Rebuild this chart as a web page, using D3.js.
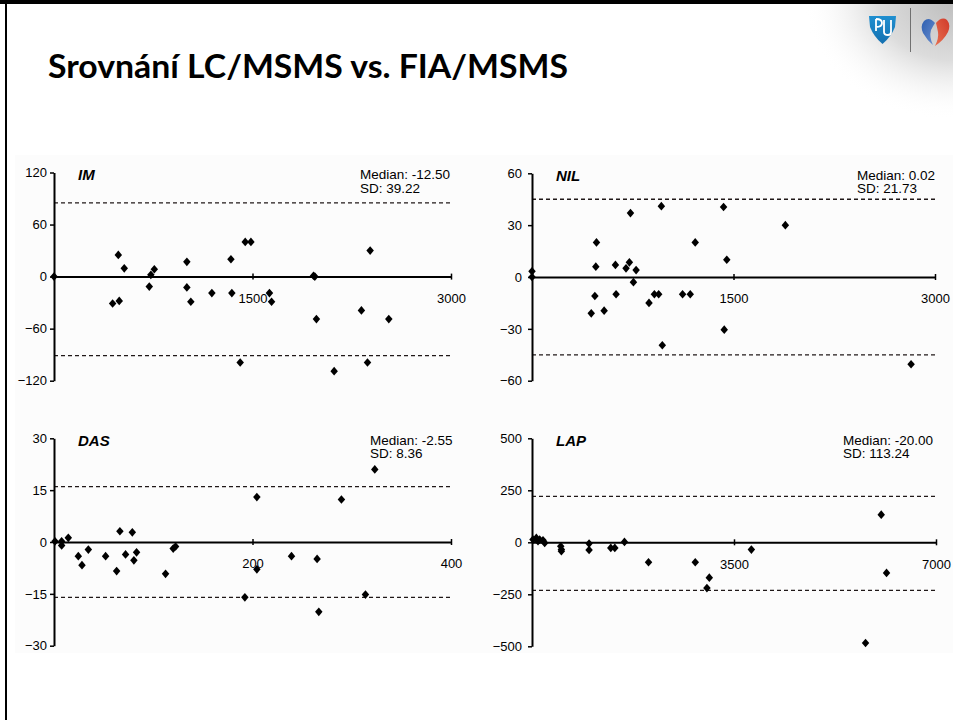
<!DOCTYPE html>
<html>
<head>
<meta charset="utf-8">
<script src="https://cdn.jsdelivr.net/npm/d3@7"></script>
<style>
  html, body { margin: 0; padding: 0; background: #fff; }
  svg { display: block; }
</style>
</head>
<body>
<svg id="chart" width="953" height="720"></svg>
<script>
// ---------------- DATA ----------------
const titleText = "Srovnání LC/MSMS vs. FIA/MSMS";
const panelNames = ["IM", "NIL", "DAS", "LAP"];
const medianLabels = ["-12.50", "0.02", "-2.55", "-20.00"];
const sdLabels = ["39.22", "21.73", "8.36", "113.24"];
const upperLimits = [85, 45, 16, 221];
const lowerLimits = [-91, -45, -16, -231];
const xDomains = [[0, 3000], [0, 3000], [0, 400], [0, 7000]];
const yDomains = [[-120, 120], [-60, 60], [-30, 30], [-500, 500]];
const xTickValues = [[1500, 3000], [1500, 3000], [200, 400], [3500, 7000]];
const yTickValues = [[-120, -60, 0, 60, 120], [-60, -30, 0, 30, 60], [-30, -15, 0, 15, 30], [-500, -250, 0, 250, 500]];

const imX = [0, 486, 531, 443, 493, 720, 732, 758, 1004, 1004, 1034, 1193, 1337, 1344, 1407, 1445, 1488, 1628, 1644, 1961, 1971, 1983, 2117, 2323, 2369, 2389, 2530];
const imY = [0, 25, 9.5, -31, -28, -11.5, 2, 8.5, 17, -12.5, -29, -19, 20, -19, -99, 40, 40, -19, -29, 1, 0, -49, -109, -39, -99, 30, -49];

const nilX = [0, 0, 480, 475, 468, 441, 537, 621, 626, 700, 725, 733, 775, 755, 871, 911, 943, 963, 970, 1121, 1178, 1215, 1426, 1450, 1431, 1886, 2822];
const nilY = [3.3, 0, 20, 6, -11, -21, -19.5, 7, -10, 5, 8.5, 37, 4, -3, -15, -10, -10, 41, -39.5, -10, -10, 20, 40.5, 10, -30.5, 30, -50.5];

const dasX = [1, 7.7, 7.7, 14.4, 24.5, 28.2, 34.6, 52, 63.1, 66.4, 72.1, 78.9, 80.5, 83.2, 112.4, 120.1, 122.5, 192.3, 204.4, 204.4, 239.3, 265.1, 266.8, 289.6, 313.8, 323.2];
const dasY = [0.2, 0.2, -1, 1.2, -4.1, -6.7, -2.2, -4.1, -8.4, 3.1, -3.6, 2.8, -5.3, -3, -9.2, -1.9, -1.3, -16, 13, -7.9, -4.1, -4.9, -20.2, 12.3, -15.2, 21];

const lapX = [17, 75, 104, 133, 191, 220, 498, 509, 509, 989, 989, 1365, 1435, 1602, 2019, 2829, 3031, 3072, 3801, 5779, 6051, 6143];
const lapY = [13, 21, 5, 13, 10, -3, -19, -35, -43, -6, -37, -27, -27, 2, -96, -96, -220, -170, -35, -484, 133, -147];

const seriesX = [imX, nilX, dasX, lapX];
const seriesY = [imY, nilY, dasY, lapY];

// ---------------- LAYOUT ----------------
const layout = [
  { left: 54,  right: 451, top: 172.5, bottom: 380.7, labelGap: 3 },
  { left: 532, right: 935, top: 173.3, bottom: 380.7, labelGap: 6 },
  { left: 54,  right: 451, top: 438.3, bottom: 645.7, labelGap: 3 },
  { left: 532, right: 936, top: 438.3, bottom: 646.3, labelGap: 6 }
];
const statsX = [360, 857, 370, 843];
const FONT = "'Liberation Sans', Arial, Helvetica, sans-serif";

const svg = d3.select("#chart");
const defs = svg.append("defs");

// top-right grey shading
const rg = defs.append("radialGradient").attr("id", "corner")
  .attr("gradientUnits", "userSpaceOnUse")
  .attr("cx", 953).attr("cy", 0).attr("r", 150)
  .attr("gradientTransform", "translate(953,0) scale(1,0.8) translate(-953,0)");
rg.append("stop").attr("offset", 0).attr("stop-color", "#bdbdbd");
rg.append("stop").attr("offset", 0.5).attr("stop-color", "#dcdcdc");
rg.append("stop").attr("offset", 1).attr("stop-color", "#ffffff").attr("stop-opacity", 0);

svg.append("rect").attr("width", 953).attr("height", 720).attr("fill", "#fff");
svg.append("rect").attr("x", 780).attr("y", 0).attr("width", 173).attr("height", 140).attr("fill", "url(#corner)");

// faint chart image background
svg.append("rect").attr("x", 15).attr("y", 155).attr("width", 938).attr("height", 498).attr("fill", "#fcfcfc");

// slide frame
svg.append("rect").attr("x", 0).attr("y", 0).attr("width", 953).attr("height", 4).attr("fill", "#000");
svg.append("rect").attr("x", 5).attr("y", 0).attr("width", 2).attr("height", 720).attr("fill", "#000");

// logos
svg.append("line").attr("x1", 910.5).attr("x2", 910.5).attr("y1", 8).attr("y2", 52)
  .attr("stroke", "#707070").attr("stroke-width", 1);
const bg = defs.append("linearGradient").attr("id", "blueShield").attr("x1", 0).attr("y1", 0).attr("x2", 0).attr("y2", 1);
bg.append("stop").attr("offset", 0).attr("stop-color", "#1f8fd0");
bg.append("stop").attr("offset", 1).attr("stop-color", "#1470b0");
svg.append("path")
  .attr("d", "M869,16 L896,16 L895,27 Q891,37 882.5,44 Q874,37 870,27 Z")
  .attr("fill", "url(#blueShield)");
svg.append("path")
  .attr("d", "M876,19 L876,31 M876,19 Q882,19 882,23 Q882,27 876,27 M884,20 L884,32 Q884,35 888,35 Q891,35 891,32 L891,20")
  .attr("fill", "none").attr("stroke", "#fff").attr("stroke-width", 1.8);
const hb = defs.append("linearGradient").attr("id", "heartBlue").attr("x1", 0).attr("y1", 0).attr("x2", 1).attr("y2", 1);
hb.append("stop").attr("offset", 0).attr("stop-color", "#2e5fb0");
hb.append("stop").attr("offset", 1).attr("stop-color", "#6a8fd0");
const hr = defs.append("linearGradient").attr("id", "heartRed").attr("x1", 1).attr("y1", 0).attr("x2", 0).attr("y2", 1);
hr.append("stop").attr("offset", 0).attr("stop-color", "#d03a2a");
hr.append("stop").attr("offset", 1).attr("stop-color", "#e87050");
svg.append("path")
  .attr("d", "M935,23 Q929,16 924,21 Q920,26 923,33 Q927,40 933,45 Q929,37 931,30 Q933,26 935,23 Z")
  .attr("fill", "url(#heartBlue)");
svg.append("path")
  .attr("d", "M936,23 Q942,16 947,20 Q951,25 948,32 Q944,40 935,46 Q939,38 938,32 Q937,27 936,23 Z")
  .attr("fill", "url(#heartRed)");

// title
svg.append("text")
  .attr("x", 48).attr("y", 78)
  .attr("font-family", "Lato, 'Open Sans', sans-serif")
  .attr("font-weight", "bold")
  .attr("font-size", 33)
  .attr("fill", "#000")
  .attr("textLength", 520)
  .attr("lengthAdjust", "spacingAndGlyphs")
  .text(titleText);

// diamond symbol
const diamond = {
  draw(context, size) {
    const a = Math.sqrt(size);
    context.moveTo(0, -a * 0.58);
    context.lineTo(a * 0.5, 0);
    context.lineTo(0, a * 0.58);
    context.lineTo(-a * 0.5, 0);
    context.closePath();
  }
};

panelNames.forEach((name, i) => {
  const L = layout[i];
  const x = d3.scaleLinear().domain(xDomains[i]).range([L.left, L.right]);
  const y = d3.scaleLinear().domain(yDomains[i]).range([L.bottom, L.top]);
  const g = svg.append("g");

  // limits (dashed)
  [upperLimits[i], lowerLimits[i]].forEach(v => {
    g.append("line")
      .attr("x1", x(xDomains[i][0])).attr("x2", x(xDomains[i][1]))
      .attr("y1", y(v)).attr("y2", y(v))
      .attr("stroke", "#201818").attr("stroke-width", 1.3)
      .attr("stroke-dasharray", "4,3");
  });

  // y axis
  const yAxis = d3.axisLeft(y).tickValues(yTickValues[i]).tickSize(4)
    .tickSizeOuter(0).tickPadding(L.labelGap).tickFormat(d3.format("d"));
  const ya = g.append("g").attr("transform", `translate(${L.left},0)`).call(yAxis);
  ya.select(".domain").attr("stroke", "#000").attr("stroke-width", 2);
  ya.selectAll(".tick line").attr("stroke", "#000").attr("stroke-width", 1.5);
  ya.selectAll("text").attr("font-family", FONT).attr("font-size", 13).attr("fill", "#000");

  // x axis at zero
  const xAxis = d3.axisBottom(x).tickValues(xTickValues[i]).tickSize(3)
    .tickSizeOuter(0).tickPadding(14).tickFormat(d3.format("d"));
  const xa = g.append("g").attr("transform", `translate(0,${y(0)})`).call(xAxis);
  xa.select(".domain").attr("stroke", "#000").attr("stroke-width", 2);
  xa.selectAll(".tick line").attr("y1", -3).attr("stroke", "#000").attr("stroke-width", 1.5);
  xa.selectAll("text").attr("font-family", FONT).attr("font-size", 13).attr("fill", "#000");

  // points
  const pts = seriesX[i].map((v, k) => ({ x: v, y: seriesY[i][k] }));
  g.append("g").selectAll("path").data(pts).join("path")
    .attr("d", d3.symbol().type(diamond).size(56))
    .attr("transform", d => `translate(${x(d.x)},${y(d.y)})`)
    .attr("fill", "#000");

  // panel name
  g.append("text")
    .attr("x", L.left + 24).attr("y", L.top + 7.5)
    .attr("font-family", FONT).attr("font-weight", "bold").attr("font-style", "italic")
    .attr("font-size", 15).attr("fill", "#000")
    .text(name);

  // stats
  g.append("text")
    .attr("x", statsX[i]).attr("y", L.top + 6.5)
    .attr("font-family", FONT).attr("font-size", 13.5).attr("fill", "#000")
    .text("Median: " + medianLabels[i]);
  g.append("text")
    .attr("x", statsX[i]).attr("y", L.top + 20)
    .attr("font-family", FONT).attr("font-size", 13.5).attr("fill", "#000")
    .text("SD: " + sdLabels[i]);
});
</script>
</body>
</html>
